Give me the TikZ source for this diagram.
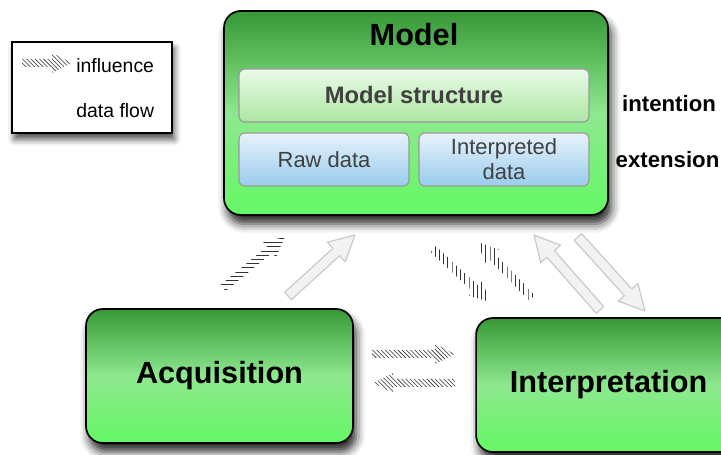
\documentclass[tikz,border=0pt]{standalone}
\usepackage{fontspec}
\setmainfont{Liberation Sans}
\usepackage{tikz}
\usetikzlibrary{calc, patterns, shadows.blur}

\definecolor{boxtop}{RGB}{55,152,55}
\definecolor{boxmid}{RGB}{142,232,142}
\definecolor{boxbot}{RGB}{100,248,100}
\definecolor{strtop}{RGB}{234,250,232}
\definecolor{strbot}{RGB}{172,230,162}
\definecolor{datatop}{RGB}{232,242,252}
\definecolor{databot}{RGB}{152,204,236}

% block arrow: style, half shaft, half head, head length, from, to
\newcommand{\fatarrow}[6]{%
  \coordinate (tipbase) at ($(#6)!#4!(#5)$);
  \path[#1] ($(#5)!#2!90:(#6)$) -- ($(tipbase)!#2!90:(#6)$) -- ($(tipbase)!#3!90:(#6)$) -- (#6)
    -- ($(tipbase)!#3!-90:(#6)$) -- ($(tipbase)!#2!-90:(#6)$) -- ($(#5)!#2!-90:(#6)$) -- cycle;
}
\newcommand{\flowarrow}[2]{\fatarrow{flow}{1.25mm}{3.3mm}{6.3mm}{#1}{#2}}
\newcommand{\inflarrow}[3]{\fatarrow{infl, pattern=#1}{1mm}{2.5mm}{5mm}{#2}{#3}}

\begin{document}
\begin{tikzpicture}[
    bigbox/.style={draw=black, line width=1.2pt, rounded corners=0.42cm, top color=boxtop, bottom color=boxbot, middle color=boxmid,
        blur shadow={shadow xshift=0.8mm, shadow yshift=-2.2mm, shadow blur radius=2.2mm, shadow opacity=85}},
    bigtext/.style={font=\fontsize{21.8}{26}\selectfont\bfseries},
    partbox/.style={draw=black!40, line width=0.8pt, rounded corners=0.15cm, text=black!75},
    structure/.style={partbox, top color=strtop, bottom color=strbot, font=\fontsize{16.9}{20}\selectfont\bfseries},
    datapart/.style={partbox, top color=datatop, bottom color=databot, align=center, font=\fontsize{15.6}{17.7}\selectfont},
    side/.style={font=\fontsize{15.8}{19}\selectfont\bfseries},
    legendtext/.style={font=\fontsize{13.8}{16}\selectfont, anchor=east},
    flow/.style={fill=black!5, draw=black!22, line width=0.8pt, line join=round},
    infl/.style={pattern color=black!80}
]
\useasboundingbox (0,0) rectangle (18.025,11.35);

% legend
\node[draw, line width=0.8pt, fill=white, minimum width=4cm, minimum height=2.275cm,
    blur shadow={shadow xshift=0.6mm, shadow yshift=-1.6mm, shadow blur radius=1.6mm, shadow opacity=70}] (legend) at (2.3,9.1625) {};
\node[legendtext] (lgdinfl) at (3.975,9.7) {influence};
\node[legendtext] (lgdflow) at (3.975,8.575) {data flow};

% boxes
\node[bigbox, minimum width=9.6cm, minimum height=5.1cm] (model) at (10.4,8.525) {};
\node[bigtext] (modeltitle) at (10.35,10.475) {Model};
\node[structure, minimum width=8.75cm, minimum height=1.325cm] (structure) at (10.35,8.9625) {Model structure};
\node[datapart, minimum width=4.25cm, minimum height=1.325cm] (rawdata) at (8.1,7.3625) {Raw data};
\node[datapart, minimum width=4.25cm, minimum height=1.325cm] (interpdata) at (12.6,7.3625) {Interpreted\\data};

\node[side] (intention) at (16.725,8.75) {intention};
\node[side] (extension) at (16.6875,7.35) {extension};

\node[bigbox, bigtext, minimum width=6.675cm, minimum height=3.35cm] (acquisition) at (5.4875,1.95) {Acquisition};
\node[bigbox, bigtext, minimum width=6.625cm, minimum height=3.35cm] (interpretation) at (15.215,1.725) {Interpretation};

% arrow ends
\coordinate (df1) at (7.2,3.95);    \coordinate (df1tip) at (8.875,5.475);
\coordinate (df2) at (15.0,3.6);    \coordinate (df2tip) at (13.35,5.475);
\coordinate (df3) at (14.45,5.425); \coordinate (df3tip) at (16.125,3.575);
\coordinate (inf0) at (0.55,9.775);  \coordinate (inf0tip) at (1.8,9.775);
\coordinate (inf1) at (5.575,4.15);  \coordinate (inf1tip) at (7.125,5.425);
\coordinate (inf2) at (10.825,5.125); \coordinate (inf2tip) at (12.25,3.8);
\coordinate (inf3) at (13.3,3.9);    \coordinate (inf3tip) at (11.95,5.3);
\coordinate (inf4) at (9.3,2.5);     \coordinate (inf4tip) at (11.375,2.5);
\coordinate (inf5) at (11.375,1.775); \coordinate (inf5tip) at (9.325,1.775);

\flowarrow{df1}{df1tip};
\flowarrow{df2}{df2tip};
\flowarrow{df3}{df3tip};

\inflarrow{north west lines}{inf0}{inf0tip};
\inflarrow{horizontal lines}{inf1}{inf1tip};
\inflarrow{vertical lines}{inf2}{inf2tip};
\inflarrow{vertical lines}{inf3}{inf3tip};
\inflarrow{north west lines}{inf4}{inf4tip};
\inflarrow{north west lines}{inf5}{inf5tip};

\end{tikzpicture}
\end{document}
